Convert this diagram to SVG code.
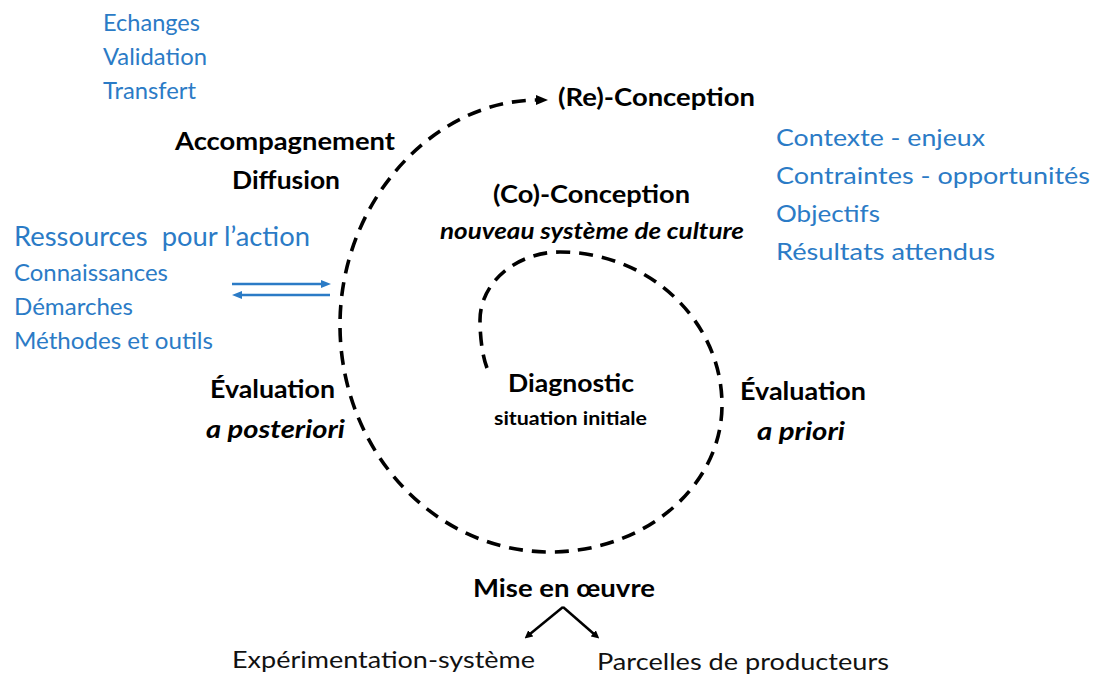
<svg xmlns="http://www.w3.org/2000/svg" width="1097" height="682" viewBox="0 0 1097 682">
<style>
text{font-family:Lato,"Open Sans","Liberation Sans",sans-serif}
.b{fill:#2B7BC6;font-size:24px}
.k{fill:#000;font-size:24px;font-weight:bold}
.ki{fill:#000;font-size:24px;font-weight:bold;font-style:italic}
.n{fill:#111;font-size:24px}
.sp{fill:none;stroke:#000;stroke-width:3.6;stroke-dasharray:14 9}
.bl{stroke:#2B7BC6;stroke-width:2.5;fill:none}
.ar{stroke:#000;stroke-width:2.5;fill:none}
</style>
<defs>
<marker id="mk" markerWidth="8" markerHeight="8" refX="1" refY="4" orient="auto" markerUnits="userSpaceOnUse" viewBox="0 0 8 8"><path d="M0,0 L8,4 L0,8 Z" fill="#000"/></marker>
<marker id="mb" markerWidth="10" markerHeight="8" refX="2" refY="4" orient="auto" markerUnits="userSpaceOnUse" viewBox="0 0 10 8"><path d="M0,0 L10,4 L0,8 Z" fill="#2B7BC6"/></marker>
<marker id="mh" markerWidth="12" markerHeight="10" refX="2" refY="5" orient="auto" markerUnits="userSpaceOnUse" viewBox="0 0 12 10"><path d="M0,0 L12,5 L0,10 Z" fill="#000"/></marker>
</defs>
<g id="connectors">
<path class="sp" d="M487,368 C482,355 480,335 480,320 C480,283 516,252 560,252 C649,252 722,321 722,405 C722,486 645,552 550,552 C434,552 340,450 340,325 C340,201 434,100 538,100" marker-end="url(#mh)"/>
<line class="bl" x1="232" y1="284" x2="323" y2="284" marker-end="url(#mb)"/>
<line class="bl" x1="330" y1="295" x2="240" y2="295" marker-end="url(#mb)"/>
<line class="ar" x1="563" y1="607" x2="530" y2="634" marker-end="url(#mk)"/>
<line class="ar" x1="563" y1="607" x2="594" y2="634" marker-end="url(#mk)"/>
</g>
<g id="echanges">
<text class="b" x="103" y="31" textLength="97" lengthAdjust="spacingAndGlyphs">Echanges</text>
<text class="b" x="103" y="65" textLength="104" lengthAdjust="spacingAndGlyphs">Validation</text>
<text class="b" x="103" y="99" textLength="93" lengthAdjust="spacingAndGlyphs">Transfert</text>
</g>
<g id="accompagnement">
<text class="k" x="175" y="150" textLength="220" lengthAdjust="spacingAndGlyphs">Accompagnement</text>
<text class="k" x="232" y="189" textLength="108" lengthAdjust="spacingAndGlyphs">Diffusion</text>
</g>
<g id="reconception">
<text class="k" x="558" y="106" textLength="197" lengthAdjust="spacingAndGlyphs">(Re)-Conception</text>
</g>
<g id="contexte">
<text class="b" x="776" y="146" textLength="209" lengthAdjust="spacingAndGlyphs">Contexte - enjeux</text>
<text class="b" x="776" y="184" textLength="314" lengthAdjust="spacingAndGlyphs">Contraintes - opportunités</text>
<text class="b" x="776" y="222" textLength="104" lengthAdjust="spacingAndGlyphs">Objectifs</text>
<text class="b" x="776" y="260" textLength="219" lengthAdjust="spacingAndGlyphs">Résultats attendus</text>
</g>
<g id="coconception">
<text class="k" x="493" y="203" textLength="197" lengthAdjust="spacingAndGlyphs">(Co)-Conception</text>
<text class="ki" x="440" y="239" textLength="304" lengthAdjust="spacingAndGlyphs" style="font-size:22px">nouveau système de culture</text>
</g>
<g id="ressources">
<text class="b" x="14" y="246" textLength="296" lengthAdjust="spacingAndGlyphs" style="font-size:27px;white-space:pre" xml:space="preserve">Ressources  pour l’action</text>
<text class="b" x="14" y="281" textLength="154" lengthAdjust="spacingAndGlyphs">Connaissances</text>
<text class="b" x="14" y="315" textLength="119" lengthAdjust="spacingAndGlyphs">Démarches</text>
<text class="b" x="14" y="349" textLength="199" lengthAdjust="spacingAndGlyphs">Méthodes et outils</text>
</g>
<g id="eval-posteriori">
<text class="k" x="210" y="398" textLength="125" lengthAdjust="spacingAndGlyphs">Évaluation</text>
<text class="ki" x="206" y="438" textLength="139" lengthAdjust="spacingAndGlyphs">a posteriori</text>
</g>
<g id="eval-priori">
<text class="k" x="740" y="400" textLength="126" lengthAdjust="spacingAndGlyphs">Évaluation</text>
<text class="ki" x="757" y="440" textLength="88" lengthAdjust="spacingAndGlyphs">a priori</text>
</g>
<g id="diagnostic">
<text class="k" x="508" y="392" textLength="126" lengthAdjust="spacingAndGlyphs">Diagnostic</text>
<text class="k" x="494" y="425" textLength="153" lengthAdjust="spacingAndGlyphs" style="font-size:18px">situation initiale</text>
</g>
<g id="mise-en-oeuvre">
<text class="k" x="473" y="597" textLength="182" lengthAdjust="spacingAndGlyphs">Mise en œuvre</text>
</g>
<g id="experimentation">
<text class="n" x="232" y="668" textLength="303" lengthAdjust="spacingAndGlyphs">Expérimentation-système</text>
</g>
<g id="parcelles">
<text class="n" x="597" y="670" textLength="292" lengthAdjust="spacingAndGlyphs">Parcelles de producteurs</text>
</g>
</svg>
